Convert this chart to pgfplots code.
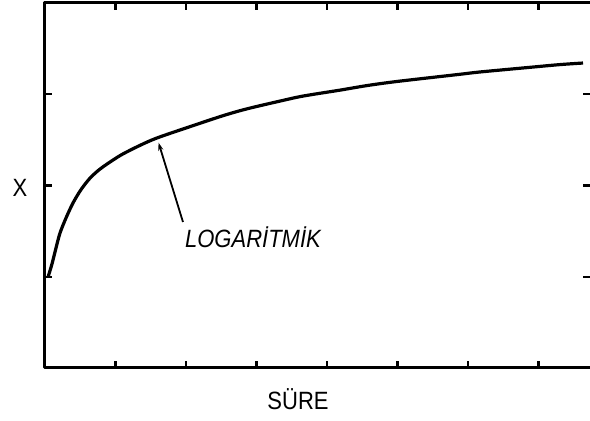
\documentclass[border=0pt]{standalone}
\usepackage{pgfplots}
\pgfplotsset{compat=1.18}
\usetikzlibrary{arrows.meta}
\usepackage{fontspec}
\setmainfont{Liberation Sans}
\newfontfamily\narrowfont[FakeStretch=0.88]{Liberation Sans}
\begin{document}
\begin{tikzpicture}
\begin{axis}[
  scale only axis, width=545pt, height=365pt,
  xmin=0, xmax=7.73, ymin=0, ymax=4,
  xtick={1,2,3,4,5,6,7}, ytick={1,2,3},
  xticklabels={}, yticklabels={},
  tick align=inside, major tick length=7pt,
  tick style={black, line width=2.4pt},
  axis line style={draw=none},
  clip=false,
]
\draw[line width=3pt, line cap=round, line join=round]
  (rel axis cs:1,1) -- (rel axis cs:0,1) -- (rel axis cs:0,0) -- (rel axis cs:1,0);
\addplot[black, line width=3.2pt, smooth, tension=0.5] coordinates {
(0.043,0.997) (0.099,1.140) (0.156,1.315) (0.213,1.479) (0.298,1.644)
(0.397,1.808) (0.511,1.955) (0.638,2.080) (0.780,2.180) (0.965,2.279)
(1.106,2.346) (1.348,2.440) (1.589,2.521) (2.057,2.645) (2.525,2.765)
(2.865,2.840) (3.333,2.925) (3.660,2.980) (4.184,3.045) (4.567,3.095)
(4.993,3.140) (5.844,3.215) (6.170,3.244) (6.879,3.295) (7.305,3.325)
(7.631,3.342)
};
\draw[line width=1.8pt, -{Stealth[length=8pt,width=5pt]}]
  (axis cs:1.957,1.60) -- (axis cs:1.610,2.47);
\node[font=\narrowfont\itshape\fontsize{25}{25}\selectfont, anchor=base]
  at (axis cs:2.95,1.32) {LOGARİTMİK};
\node[font=\narrowfont\fontsize{25}{25}\selectfont, anchor=base]
  at (axis cs:3.589,-0.46) {SÜRE};
\node[font=\narrowfont\fontsize{25}{25}\selectfont, anchor=base]
  at (axis cs:-0.355,1.88) {X};
\coordinate (sw) at (rel axis cs:0,0);
\coordinate (ne) at (rel axis cs:1,1);
\end{axis}
\pgfresetboundingbox
\path[use as bounding box] ([xshift=-45pt,yshift=-53pt]sw) rectangle ([yshift=3pt]ne);
\end{tikzpicture}
\end{document}
